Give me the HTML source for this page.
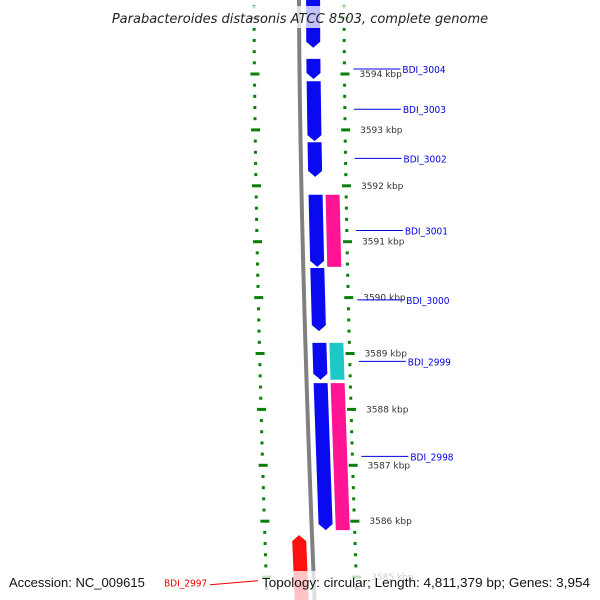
<!DOCTYPE html>
<html><head><meta charset="utf-8"><style>
body{margin:0;background:#fff;overflow:hidden}
svg{display:block;font-family:"Liberation Sans","DejaVu Sans",sans-serif}
</style></head><body>
<svg id="map" width="600" height="600" viewBox="0 0 600 600"></svg>
<script>
const geneNames=["BDI_3005","BDI_3004","BDI_3003","BDI_3002","BDI_3001","BDI_3000","BDI_2999","BDI_2998","BDI_2997"];
const geneStart=[3596.0,3594.27,3593.87,3592.78,3591.84,3590.53,3589.19,3588.47,3585.75];
const geneEnd=[3594.47,3593.91,3592.80,3592.16,3590.55,3589.40,3588.53,3585.84,3584.0];
const geneStrand=[-1,-1,-1,-1,-1,-1,-1,-1,1];
const extraStart=[3591.84,3589.19,3588.47];
const extraEnd=[3590.55,3588.53,3585.84];
const extraColor=["#ff1493","#1ec8c8","#ff1493"];
const tickLabels=[3594,3593,3592,3591,3590,3589,3588,3587,3586,3585];
const labelNames=["BDI_3004","BDI_3003","BDI_3002","BDI_3001","BDI_3000","BDI_2999","BDI_2998","BDI_2997"];
const labelPos=[3594.09,3593.37,3592.49,3591.2,3589.96,3588.86,3587.16,3584.9];

const svg=document.getElementById('map');
const NS='http://www.w3.org/2000/svg';
function Y(k){return 74+(3594-k)*55.9;}
function sh(y){const t=Math.max(0,y)/600;return 13*Math.pow(t,1.6);}
function mk(tag,attrs,parent){const e=document.createElementNS(NS,tag);for(const a in attrs)e.setAttribute(a,attrs[a]);(parent||svg).appendChild(e);return e;}

let bp='';for(let y=0;y<=600;y+=10){bp+=(y?'L':'M')+(299+sh(y)*1.2)+' '+y;}
const bb=mk('path',{d:bp,stroke:'#808080','stroke-width':4,fill:'none'});



for(let i=0;i<=60;i++){
  const k=3596-i*0.2;const y=Y(k);if(y<0||y>598)continue;
  const major=Math.abs(k-Math.round(k))<0.01;
  [254,344].forEach(function(x0){
    const x=x0+sh(y);
    const r=mk('rect',{x:major?x-4:x-1.5,y:y-1.5,width:major?9:3,height:3,fill:'#0a800a'});
    
    
  });
}
tickLabels.forEach(function(k){
  const y=Y(k);
  const t=mk('text',{x:359+sh(y),y:y+3,'font-size':9,fill:'#333','font-family':'DejaVu Sans, sans-serif'});
  t.textContent=k+' kbp';
  
  
});

function feature(s,e,strand,o1,o2,color,name){
  const y1=Y(s),y2=Y(e);
  let pts;
  if(strand<0){const yt=y2-6;pts=[[o1,y1],[o2,y1],[o2,yt],[(o1+o2)/2,y2],[o1,yt]];}
  else if(strand>0){const yt=y2+6;pts=[[o1,y1],[o2,y1],[o2,yt],[(o1+o2)/2,y2],[o1,yt]];}
  else pts=[[o1,y1],[o2,y1],[o2,y2],[o1,y2]];
  const p=mk('polygon',{points:pts.map(function(q){return (300+q[0]+sh(q[1])*1.2)+','+q[1];}).join(' '),fill:color});
  
  
}
for(let i=0;i<geneNames.length;i++){
  if(geneStrand[i]<0)feature(geneStart[i],geneEnd[i],-1,6,20,'#0a0af0','gene-'+geneNames[i].toLowerCase());
  else feature(geneEnd[i],geneStart[i],1,-21,-7,'#ff1010','gene-'+geneNames[i].toLowerCase());
}
for(let i=0;i<extraStart.length;i++){
  feature(extraStart[i],extraEnd[i],0,23,37,extraColor[i],'cog-feature');
}
mk('rect',{x:100,y:6,width:400,height:22,fill:'rgba(255,255,255,0.75)'});
mk('rect',{x:0,y:571,width:600,height:29,fill:'rgba(255,255,255,0.75)'});
labelNames.forEach(function(n,i){
  const y=Y(labelPos[i]);
  const red=n==='BDI_2997';
  const col=red?'#f00000':'#0000e0';
  if(red){mk('line',{x1:210,y1:y+2,x2:258,y2:y-2,stroke:col,'stroke-width':1});}
  else{mk('line',{x1:353+sh(y),y1:y,x2:400+sh(y),y2:y,stroke:col,'stroke-width':1});}
  const t=mk('text',{x:red?164:402+sh(y),y:y+4,'font-size':10,fill:col,'font-family':'DejaVu Sans Condensed, DejaVu Sans, sans-serif'});
  t.textContent=n;
  
  
});
const ti=mk('text',{x:300,y:23,'font-size':13,'font-style':'italic','text-anchor':'middle',fill:'#222','font-family':'DejaVu Sans, sans-serif'});
ti.textContent='Parabacteroides distasonis ATCC 8503, complete genome';


const ac=mk('text',{x:9,y:587,'font-size':13,fill:'#111'});
ac.textContent='Accession: NC_009615';


const tp=mk('text',{x:262,y:587,'font-size':13,fill:'#111',textLength:328,lengthAdjust:'spacingAndGlyphs'});
tp.textContent='Topology: circular; Length: 4,811,379 bp; Genes: 3,954';


</script>
</body></html>
